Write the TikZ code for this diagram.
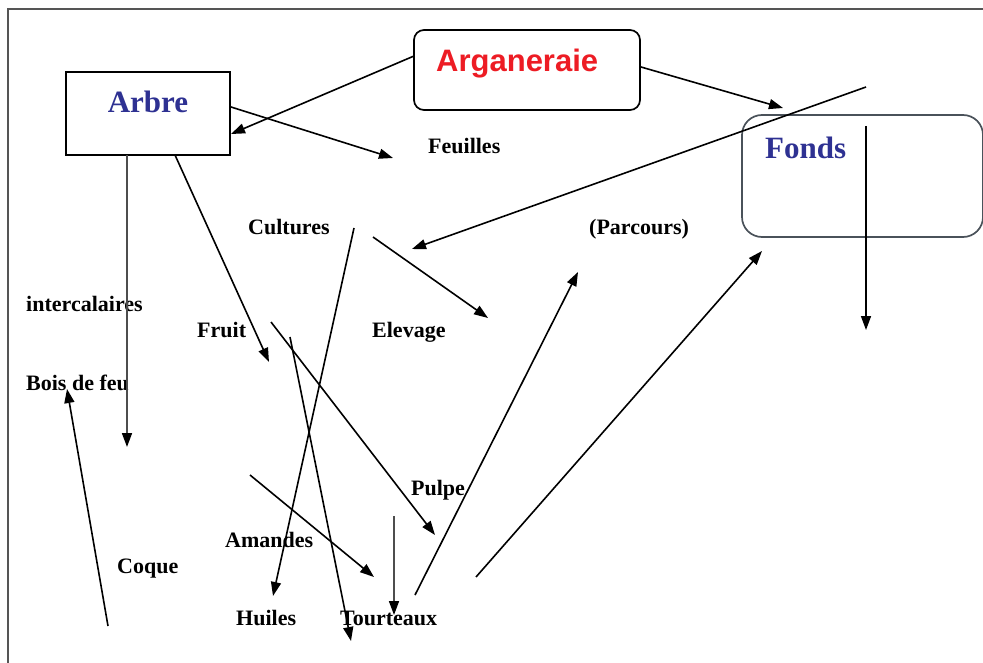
\documentclass[tikz,border=0pt]{standalone}
\usepackage{fontspec}
\setmainfont{Liberation Serif}
\newfontfamily\sansf{Liberation Sans}
\usetikzlibrary{arrows.meta}
\definecolor{arbreblue}{HTML}{2E3192}
\definecolor{argred}{HTML}{ED1C24}
\definecolor{framegray}{HTML}{555555}
\definecolor{fondsgray}{HTML}{4A525A}
\definecolor{lightline}{HTML}{4D4D4D}
\begin{document}
\begin{tikzpicture}[x=1pt,y=-1pt,
  lbl/.style={font=\fontsize{22}{24}\selectfont\bfseries, inner sep=0pt, anchor=base west},
  title/.style={font=\fontsize{31}{34}\selectfont\bfseries, inner sep=0pt},
  conn/.style={line width=1.6pt, -{Triangle[length=14pt,width=10pt,color=black]}},
  boxstyle/.style={draw, line width=1.7pt, inner sep=0pt}]
\useasboundingbox (0,0) rectangle (983,663);
\fill[white] (0,0) rectangle (983,663);
\draw[framegray, line width=1.6pt] (8,663) -- (8,9) -- (983,9);

% boxes
\node[boxstyle, minimum width=164pt, minimum height=83pt] (arbre) at (148,113.5) {};
\node[boxstyle, rounded corners=10pt, minimum width=226pt, minimum height=80pt] (arg) at (527,70) {};
\node[boxstyle, draw=fondsgray, rounded corners=20pt, minimum width=241pt, minimum height=122pt] (fonds) at (862.5,176) {};

% titles
\node[title, text=arbreblue, anchor=base] (arbretxt) at (148,113) {Arbre};
\node[title, font=\sansf\fontsize{31}{34}\selectfont\bfseries, text=argred, anchor=base west] (argtxt) at (436,72) {Arganeraie};
\node[title, text=arbreblue, anchor=base west] (fondstxt) at (765,159) {Fonds};

% labels
\node[lbl] (feuilles) at (428,154) {Feuilles};
\node[lbl] (cultures) at (248,235) {Cultures};
\node[lbl] (parcours) at (589,235) {(Parcours)};
\node[lbl] (inter) at (26,312) {intercalaires};
\node[lbl] (fruit) at (197,337) {Fruit};
\node[lbl] (elevage) at (372,337) {Elevage};
\node[lbl] (bois) at (26,390) {Bois de feu};
\node[lbl] (pulpe) at (411,495) {Pulpe};
\node[lbl] (amandes) at (225,547) {Amandes};
\node[lbl] (coque) at (117,573) {Coque};
\node[lbl] (huiles) at (236,625) {Huiles};
\node[lbl] (tourteaux) at (340,625) {Tourteaux};

% connector end points
\coordinate (a1s) at (414,56);   \coordinate (a1e) at (231,134);
\coordinate (a2s) at (231,107);  \coordinate (a2e) at (393,158);
\coordinate (a3s) at (641,67);   \coordinate (a3e) at (783,108);
\coordinate (a4s) at (866,87);   \coordinate (a4e) at (412,249);
\coordinate (a5s) at (866,126);  \coordinate (a5e) at (866,330);
\coordinate (a6s) at (127,155);  \coordinate (a6e) at (127,447);
\coordinate (a7s) at (175,155);  \coordinate (a7e) at (269,362);
\coordinate (a8s) at (354,228);  \coordinate (a8e) at (273,596);
\coordinate (a9s) at (373,237);  \coordinate (a9e) at (488,318);
\coordinate (a10s) at (271,322); \coordinate (a10e) at (435,535);
\coordinate (a11s) at (290,337); \coordinate (a11e) at (351,641);
\coordinate (a12s) at (250,475); \coordinate (a12e) at (374,577);
\coordinate (a13s) at (394,516); \coordinate (a13e) at (394,615);
\coordinate (a14s) at (415,595); \coordinate (a14e) at (578,272);
\coordinate (a15s) at (476,577); \coordinate (a15e) at (762,251);
\coordinate (a16s) at (108,626); \coordinate (a16e) at (67,389);

% connectors
\draw[conn] (a1s) -- (a1e);
\draw[conn] (a2s) -- (a2e);
\draw[conn] (a3s) -- (a3e);
\draw[conn] (a4s) -- (a4e);
\draw[conn] (a5s) -- (a5e);
\draw[conn, draw=lightline] (a6s) -- (a6e);
\draw[conn] (a7s) -- (a7e);
\draw[conn] (a8s) -- (a8e);
\draw[conn] (a9s) -- (a9e);
\draw[conn] (a10s) -- (a10e);
\draw[conn] (a11s) -- (a11e);
\draw[conn] (a12s) -- (a12e);
\draw[conn, draw=lightline] (a13s) -- (a13e);
\draw[conn] (a14s) -- (a14e);
\draw[conn] (a15s) -- (a15e);
\draw[conn] (a16s) -- (a16e);
\end{tikzpicture}
\end{document}
